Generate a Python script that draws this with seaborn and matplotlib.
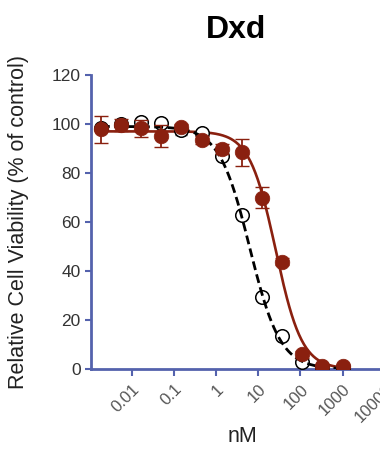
import seaborn as sns
import matplotlib.pyplot as plt
import numpy as np
import pandas as pd

sns.set_style('ticks')
plt.rcParams['font.family'] = ['Liberation Sans', 'DejaVu Sans']

# 3-fold dilution series, nM
conc = [0.00188, 0.00565, 0.0169, 0.0508, 0.152, 0.457, 1.37, 4.12, 12.3, 37.0, 111, 333, 1000]
adc_viab = [97.8, 99.6, 98.2, 95.1, 98.9, 93.5, 89.7, 88.4, 70.0, 43.8, 6.0, 1.3, 1.3]
adc_err = [5.4, 2.5, 3.5, 4.6, 1.0, 1.5, 2.0, 5.4, 4.4, 1.5, 1.5, 0.5, 0.5]
ctrl_viab = [98.5, 100.0, 101.0, 100.5, 97.5, 96.5, 87.0, 63.0, 29.5, 13.5, 3.0, 1.0, 0.5]
ctrl_err = [1.0, 1.0, 1.0, 1.0, 2.0, 1.0, 1.0, 1.0, 1.0, 1.0, 1.0, 0.5, 0.5]

# 4PL fit params (top, bottom, ic50, hill)
adc_fit = (97.0, 0.0, 26.0, 1.4)
ctrl_fit = (99.0, 0.0, 6.3, 1.2)

xticks = [0.01, 0.1, 1, 10, 100, 1000, 10000]
xlabels = ['0.01', '0.1', '1', '10', '100', '1000', '10000']
yticks = [0, 20, 40, 60, 80, 100, 120]

RED = '#8a200f'
AXIS = '#5462ad'


def four_pl(x, top, bottom, ic50, hill):
    return bottom + (top - bottom) / (1 + (x / ic50) ** hill)


xs = np.logspace(np.log10(conc[0]), np.log10(conc[-1]), 300)
curves = pd.DataFrame({'x': xs,
                       'adc': four_pl(xs, *adc_fit),
                       'ctrl': four_pl(xs, *ctrl_fit)})
pts = pd.DataFrame({'conc': conc, 'adc': adc_viab, 'ctrl': ctrl_viab})

fig = plt.figure(figsize=(3.8, 4.5), dpi=100)
ax = fig.add_axes([0.2395, 0.18, 0.79, 0.6533])

sns.lineplot(data=curves, x='x', y='adc', color=RED, lw=1.9, ax=ax, zorder=2)
ax.errorbar(conc, ctrl_viab, yerr=ctrl_err, fmt='none', ecolor='#444444',
            elinewidth=1.2, capsize=4, zorder=3)
sns.scatterplot(data=pts, x='conc', y='ctrl', s=95, facecolor='white',
                edgecolor='black', linewidth=1.1, ax=ax, zorder=4)
sns.lineplot(data=curves, x='x', y='ctrl', color='black', lw=2.0, ax=ax, zorder=5)
ax.lines[-1].set_dashes([3.2, 1.6])
ax.errorbar(conc, adc_viab, yerr=adc_err, fmt='none', ecolor=RED,
            elinewidth=1.3, capsize=5, zorder=6)
sns.scatterplot(data=pts, x='conc', y='adc', s=110, color=RED,
                edgecolor=RED, linewidth=0.5, ax=ax, zorder=7)

ax.set_xscale('log')
ax.set_xlim(10 ** -2.96, 10 ** 4.15)
ax.set_ylim(0, 120)
ax.set_xticks(xticks)
ax.set_xticklabels(xlabels, rotation=45, ha='right', rotation_mode='anchor',
                   fontsize=12)
ax.minorticks_off()
ax.set_yticks(yticks)
ax.tick_params(axis='y', labelsize=12.5, colors=AXIS, labelcolor='#333333',
               length=4, width=1.5)
ax.tick_params(axis='x', colors=AXIS, labelcolor='#555555', length=5,
               width=1.5, pad=4)

sns.despine(ax=ax)
for side in ['left', 'bottom']:
    ax.spines[side].set_color(AXIS)
    ax.spines[side].set_linewidth(2)

ax.set_xlabel('nM', fontsize=15.5, color='#222222', labelpad=6)
ax.set_ylabel('Relative Cell Viability (% of control)', fontsize=15.5,
              color='#222222', labelpad=6)
ax.yaxis.set_label_coords(-0.205, 0.5)
ax.xaxis.set_label_coords(0.505, -0.195)
fig.text(0.621, 0.933, 'Dxd', fontsize=23, fontweight='bold', ha='center',
         va='center', color='black')

fig.savefig('out.png', dpi=100)
